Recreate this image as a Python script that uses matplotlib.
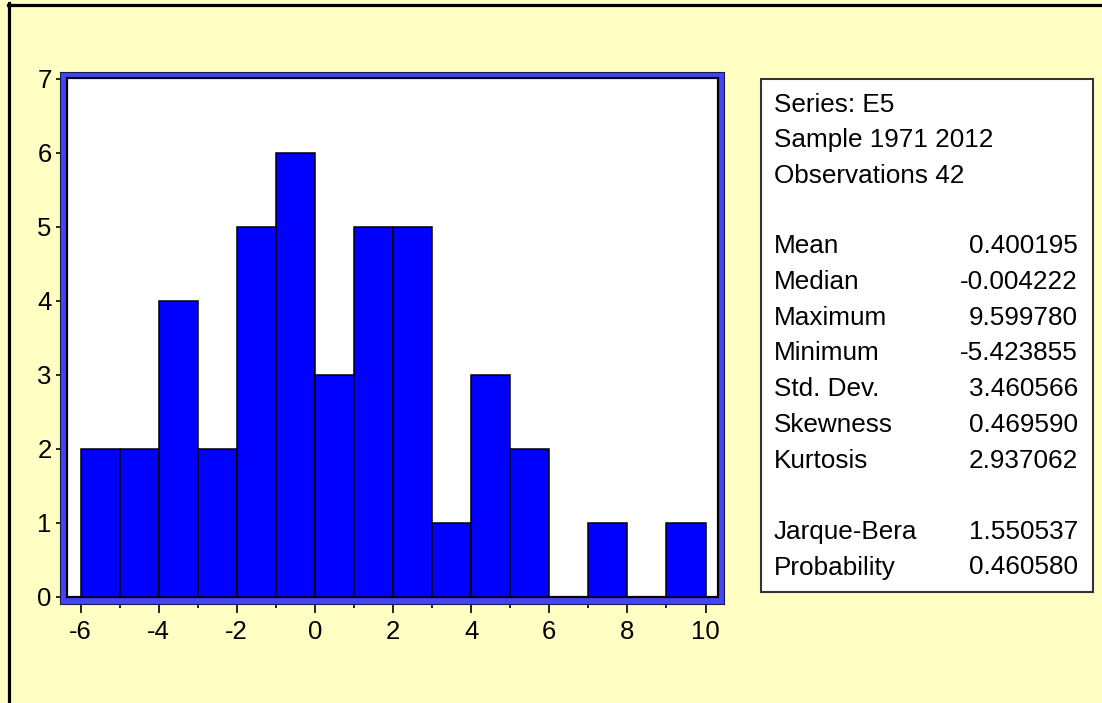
import matplotlib
matplotlib.use("Agg")
import matplotlib.pyplot as plt
from matplotlib.patches import Rectangle
from matplotlib.lines import Line2D
import numpy as np

# ---- data ----
bin_edges = [-6, -5, -4, -3, -2, -1, 0, 1, 2, 3, 4, 5, 6, 7, 8, 9, 10]
counts = [2, 2, 4, 2, 5, 6, 3, 5, 5, 1, 3, 2, 0, 1, 0, 1]
x_major = [-6, -4, -2, 0, 2, 4, 6, 8, 10]
x_minor = [-5, -3, -1, 1, 3, 5, 7, 9]
y_ticks = [0, 1, 2, 3, 4, 5, 6, 7]
header_lines = ["Series: E5", "Sample 1971 2012", "Observations 42"]
stat_labels = ["Mean", "Median", "Maximum", "Minimum", "Std. Dev.", "Skewness", "Kurtosis"]
stat_values = ["0.400195", "-0.004222", "9.599780", "-5.423855", "3.460566", "0.469590", "2.937062"]
test_labels = ["Jarque-Bera", "Probability"]
test_values = ["1.550537", "0.460580"]

W, H = 1102, 703
BG = "#FFFFC4"
plt.rcParams['font.family'] = ['Liberation Sans', 'DejaVu Sans']

fig = plt.figure(figsize=(W / 100, H / 100), dpi=100)
fig.patch.set_facecolor(BG)

def fx(px):
    return px / W

def fy(py):
    return 1 - py / H

# figure border (top and left)
fig.add_artist(Line2D([fx(8), fx(W)], [fy(4.5), fy(4.5)], color="black", lw=2.3))
fig.add_artist(Line2D([fx(8.5), fx(8.5)], [fy(3), fy(H)], color="black", lw=2.3))

# axes spanning the blue frame
L, R, T, B = 60, 724, 72, 604
ax = fig.add_axes([fx(L), fy(B), fx(R - L), (B - T) / H])
ax.set_facecolor("#4444F4")
for s in ax.spines.values():
    s.set_color("#1a1a50")
    s.set_linewidth(0.8)

# data scale: -6 at x=80.5, 10 at x=705.5 ; 0 at y=597, 6 at y=153
ppx = (705.5 - 80.5) / 16.0
ppy = (597 - 153) / 6.0
ax.set_xlim(-6 - (80.5 - L) / ppx, 10 + (R - 705.5) / ppx)
ax.set_ylim(-(B - 597) / ppy, (597 - T) / ppy)

# inner white plotting area (axes coords)
il, ir, it, ib = 67, 718, 78, 597
inner = Rectangle(((il - L) / (R - L), (B - ib) / (B - T)),
                  (ir - il) / (R - L), (ib - it) / (B - T),
                  transform=ax.transAxes, facecolor="white",
                  edgecolor="black", lw=1.6, zorder=0.5)
ax.add_patch(inner)

lefts = bin_edges[:-1]
widths = np.diff(bin_edges)
bars = ax.bar(lefts, counts, width=widths, align="edge", color="#0000FF",
              edgecolor="black", linewidth=1.1, zorder=2)
for b in bars:
    b.set_clip_path(inner)

ax.set_xticks(x_major)
ax.set_xticks(x_minor, minor=True)
ax.set_yticks(y_ticks)
ax.set_xticklabels([str(v) for v in x_major])
ax.set_yticklabels([str(v) for v in y_ticks])
ax.tick_params(axis="x", which="major", direction="out", length=6.5, width=1.2,
               color="black", labelsize=18.5, pad=5)
ax.tick_params(axis="x", which="minor", direction="out", length=3, width=1.2,
               color="black")
ax.tick_params(axis="y", which="major", direction="out", length=3, width=1.2,
               color="black", labelsize=18.5, pad=3)

# stats box
bl, bt, br, bb = 761, 79, 1093, 592
fig.add_artist(Rectangle((fx(bl), fy(bb)), fx(br - bl), (bb - bt) / H,
                         transform=fig.transFigure, facecolor="white",
                         edgecolor="#333333", lw=1.5))
tx_l, tx_r = 774, 1078
fs = 18.8
for i, s in enumerate(header_lines):
    fig.text(fx(tx_l), fy(105 + i * 35.5), s, ha="left", va="center", fontsize=fs)
for i, (lab, val) in enumerate(zip(stat_labels, stat_values)):
    y = 246 + i * 35.8
    fig.text(fx(tx_l), fy(y), lab, ha="left", va="center", fontsize=fs)
    fig.text(fx(tx_r), fy(y), val, ha="right", va="center", fontsize=fs)
for i, (lab, val) in enumerate(zip(test_labels, test_values)):
    y = 532 + i * 35.5
    fig.text(fx(tx_l), fy(y), lab, ha="left", va="center", fontsize=fs)
    fig.text(fx(tx_r), fy(y), val, ha="right", va="center", fontsize=fs)

fig.savefig("out.png", dpi=100, facecolor=BG)
